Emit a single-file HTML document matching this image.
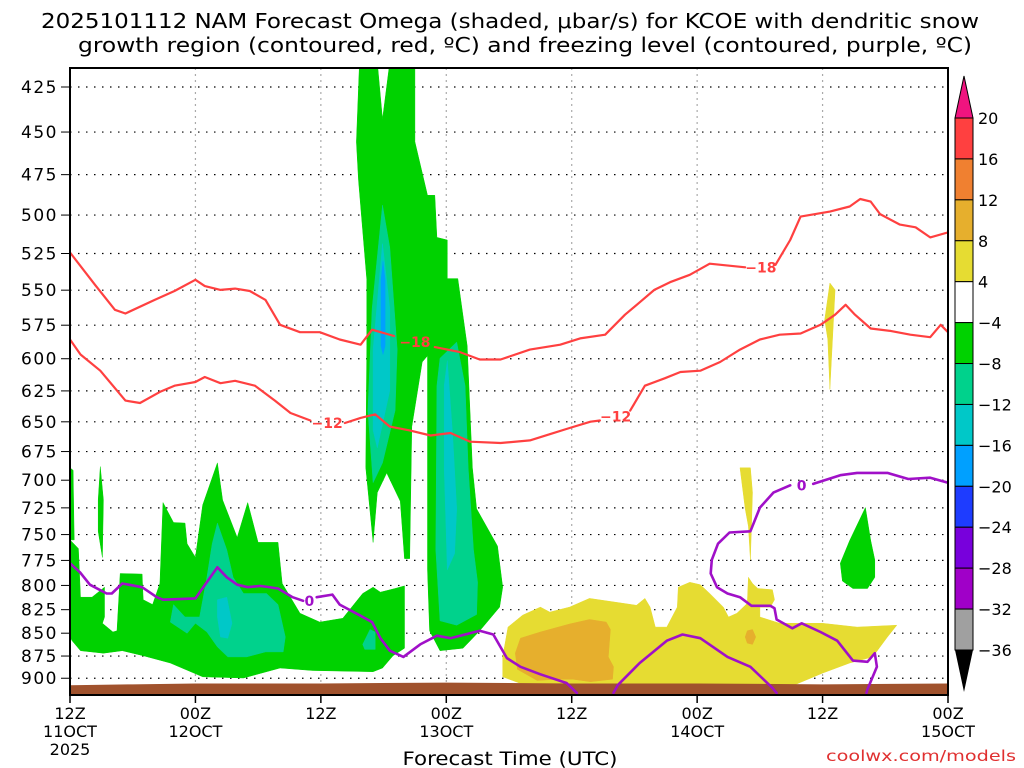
<!DOCTYPE html>
<html><head><meta charset="utf-8"><style>
html,body{margin:0;padding:0;background:#fff;}
svg{display:block;font-family:"DejaVu Sans","Liberation Sans",sans-serif;}
</style></head><body>
<svg id="chart" width="1024" height="768" viewBox="0 0 1024 768" xmlns="http://www.w3.org/2000/svg">
<text x="510" y="28" text-anchor="middle" font-size="20" textLength="938" lengthAdjust="spacingAndGlyphs">2025101112 NAM Forecast Omega (shaded, μbar/s) for KCOE with dendritic snow</text>
<text x="525" y="52" text-anchor="middle" font-size="20" textLength="894" lengthAdjust="spacingAndGlyphs">growth region (contoured, red, ºC) and freezing level (contoured, purple, ºC)</text>
<defs><clipPath id="plotclip"><rect x="70" y="68" width="878" height="627"/></clipPath></defs>
<g id="grid"></g>
<g id="shade" clip-path="url(#plotclip)"></g>
<g id="lines" clip-path="url(#plotclip)"></g>
<g id="axes"></g>
<g id="cbar"></g>
<text x="510" y="765" text-anchor="middle" font-size="19" textLength="215" lengthAdjust="spacingAndGlyphs">Forecast Time (UTC)</text>
<text x="1016" y="761" text-anchor="end" font-size="15" fill="#e03030" textLength="190" lengthAdjust="spacingAndGlyphs">coolwx.com/models</text>
</svg>
<script>
// ---- data (hours since 12Z 11 Oct, pressure hPa) ----
const pressureTicks = [425,450,475,500,525,550,575,600,625,650,675,700,725,750,775,800,825,850,875,900];
const timeTicks = [0,12,24,36,48,60,72,84];
const timeLabels1 = ["12Z","00Z","12Z","00Z","12Z","00Z","12Z","00Z"];
const timeLabels2 = ["11OCT","12OCT","","13OCT","","14OCT","","15OCT"];
const cbLevels = [20,16,12,8,4,-4,-8,-12,-16,-20,-24,-28,-32,-36];
const cbColors = ["#ff4040","#f08030","#e6af2d","#e6dc32","#ffffff","#00d200","#00d28c","#00c8c8","#00a0ff","#1e3cff","#7800dc","#a000c8","#a0a0a0"];
const surfaceHours = [0,6,12,24,36,48,60,72,84];
const surfacePres = [908,907,906,906,905,906,906,907,906];

const greenAreas = [
 [[0,689.1],[0.3,691.3],[0.4,755.1],[0,755.1]],
 [[2.7,717.8],[2.9,688.0],[3.2,717.8],[3.1,772.0],[2.7,746.9]],
 [[0,755.1],[0.8,763.5],[1.0,812.0],[2.1,812.0],[3.3,801.8],[3.3,832.7],[3.1,839.4],[4.1,848.7],[4.5,847.4],[4.8,788.0],[6.9,788.6],[7.0,814.6],[7.9,819.7],[8.6,798.0],[8.9,720.2],[9.9,738.6],[11.0,739.2],[11.2,758.7],[12.0,772.0],[12.7,722.4],[14.1,684.8],[14.6,717.8],[16.0,752.8],[17.0,720.2],[18.0,757.5],[19.9,757.5],[20.3,798.0],[22.0,828.8],[23.9,838.1],[26.1,834.1],[28.0,808.2],[29.0,801.8],[29.7,806.9],[31.1,803.1],[32.0,800.5],[32.0,866.3],[30.9,874.6],[29.9,888.4],[29.0,892.6],[23.2,891.2],[20.1,888.4],[16.6,899.7],[12.7,898.3],[9.6,882.8],[7.0,874.6],[5.0,869.1],[3.2,871.8],[1.0,869.1],[0.2,858.1],[0,854.1]],
 [[27.7,411.8],[29.4,411.8],[29.9,442.8],[30.6,411.8],[33.0,411.8],[33.0,455.6],[34.2,487.6],[34.9,487.6],[35.1,514.4],[36.1,516.1],[36.1,542.0],[37.1,542.0],[38.0,590.3],[38.5,689.1],[38.9,725.9],[40.9,761.1],[41.4,801.8],[41.1,822.3],[39.2,847.4],[37.6,866.3],[35.4,869.1],[34.4,847.4],[34.2,784.3],[34.2,597.8],[33.7,602.5],[32.7,654.0],[32.5,773.2],[32.0,773.2],[31.6,719.0],[30.3,693.5],[29.4,711.1],[29.0,757.5],[28.3,689.1],[28.4,590.3],[28.4,542.8],[27.6,478.4],[27.4,455.6]],
 [[76.1,724.8],[74.6,755.7],[73.7,777.8],[73.9,795.5],[74.9,803.1],[76.3,803.1],[77.0,791.8],[77.0,774.5],[76.6,755.7]]
];
const tealAreas = [
 [[29.9,493.8],[30.6,521.0],[31.3,593.1],[31.1,640.8],[29.9,684.8],[29.0,702.2],[28.5,640.8],[28.9,563.0]],
 [[37.0,587.5],[37.8,620.9],[38.1,689.1],[38.6,764.7],[39.0,796.8],[38.9,830.1],[37.0,841.4],[35.4,836.7],[35.0,764.7],[35.1,620.9],[35.4,599.6]],
 [[14.1,739.2],[15.0,764.7],[15.6,791.8],[16.6,808.2],[18.8,808.2],[19.9,819.7],[20.6,854.1],[20.4,870.4],[18.7,870.4],[16.9,875.9],[15.1,875.9],[14.1,864.9],[13.1,848.7],[12.0,839.4],[11.2,850.1],[9.6,838.1],[9.9,819.7],[11.0,832.7],[12.4,832.7],[13.1,791.8],[13.6,758.7]],
 [[28.0,862.2],[28.7,846.0],[29.2,848.7],[29.2,867.7],[28.2,867.7]]
];
const cyanAreas = [
 [[29.9,518.5],[30.6,563.0],[30.6,624.8],[29.4,671.9],[29.0,657.1],[29.0,593.1]],
 [[36.1,601.5],[36.6,660.3],[37.0,725.9],[36.8,768.3],[36.1,784.3],[35.8,689.1],[35.8,620.9]],
 [[14.1,814.6],[15.0,812.0],[15.5,839.4],[15.1,855.4],[14.4,854.1],[14.1,832.7]]
];
const blueAreas = [
 [[29.95,530.2],[30.15,542.8],[30.15,590.3],[29.95,596.8],[29.75,590.3],[29.75,542.8]]
];
const yellowAreas = [
 [[41.4,875.9],[41.9,843.4],[43.3,830.8],[45.0,822.3],[45.9,827.5],[47.8,822.3],[49.7,813.3],[52.9,818.4],[54.2,820.4],[55.0,813.3],[55.5,822.3],[56.0,843.4],[57.1,843.4],[58.1,822.3],[58.2,801.8],[59.3,796.8],[60.3,799.3],[61.2,808.2],[62.5,822.3],[63.0,832.7],[63.8,828.8],[64.8,818.4],[64.9,791.8],[65.3,798.0],[65.8,803.1],[67.2,804.3],[67.4,814.6],[67.0,822.3],[66.0,822.3],[66.0,832.7],[67.9,839.4],[72.0,839.4],[75.3,843.4],[79.1,841.4],[78.2,854.1],[76.8,875.9],[74.6,882.8],[72.0,894.1],[68.9,909.7],[65.7,914.0],[59.3,914.0],[52.9,909.7],[48.1,908.3],[43.3,906.8],[41.4,898.3]],
 [[64.1,689.1],[65.1,689.1],[65.3,711.1],[65.1,774.5],[64.9,742.1],[64.6,725.9]],
 [[72.7,545.0],[73.2,549.8],[73.0,578.3],[72.7,623.8],[72.5,585.5],[72.2,571.0]]
];
const goldAreas = [
 [[43.1,855.4],[45.0,848.7],[47.8,840.1],[49.7,835.4],[51.3,838.1],[51.7,846.0],[51.5,875.9],[52.0,887.0],[51.9,901.1],[49.8,904.0],[48.1,901.1],[46.6,901.1],[44.7,902.6],[42.8,889.8],[42.6,871.8]],
 [[64.8,847.4],[65.3,846.0],[65.6,854.1],[65.3,862.2],[64.8,860.8],[64.6,854.1]]
];

const redUpper = [[0,524.3],[2.4,546.3],[4.3,563.9],[5.3,566.5],[8.1,556.8],[10.0,550.6],[12.0,542.8],[12.9,547.2],[14.4,549.8],[15.8,548.9],[17.2,550.6],[18.7,556.8],[20.1,574.7],[22.0,580.1],[23.9,580.1],[25.8,585.5],[27.8,589.4],[28.9,578.3],[31.0,582.9],null,[34.9,591.2],[37.3,595.0],[39.2,600.6],[41.2,600.6],[44.0,593.1],[46.9,589.4],[48.8,584.7],[51.2,582.0],[53.1,567.4],[54.5,558.5],[55.9,549.8],[57.4,544.5],[59.3,539.4],[61.2,531.8],[64.6,534.3],null,[67.5,532.6],[68.9,516.1],[69.9,501.0],[72.7,497.8],[74.6,494.6],[75.6,489.9],[76.6,491.5],[77.5,499.4],[79.4,506.1],[80.9,507.8],[82.3,514.4],[84,511.1]];
const redLower = [[0,585.5],[1.0,596.8],[2.9,609.2],[5.3,632.7],[6.7,634.7],[8.6,625.8],[10.0,620.9],[12.0,618.0],[12.9,614.1],[14.4,618.9],[15.8,617.0],[17.7,620.9],[19.6,632.7],[21.1,642.8],[23.0,648.9],null,[26.3,651.0],[27.8,646.8],[29.2,643.8],[30.6,654.0],[32.5,657.1],[34.5,661.4],[36.4,659.3],[38.3,666.6],[41.2,667.7],[44.0,665.5],[45.9,660.3],[47.8,655.1],[49.8,649.9],[50.7,648.9],null,[53.6,640.8],[55.0,620.9],[56.9,615.1],[58.4,610.2],[60.3,609.2],[62.2,602.5],[64.1,593.1],[66.0,585.5],[67.9,582.0],[69.9,581.1],[71.8,574.7],[73.2,567.4],[74.2,560.3],[75.1,567.4],[76.6,577.4],[78.5,579.2],[80.4,582.0],[82.3,583.8],[83.3,574.7],[84,580.1]];
const purpleLeft = [[0,777.8],[0.96,786.8],[1.9,799.3],[3.5,808.2],[4.0,808.2],[5.0,798.0],[6.9,801.8],[8.3,812.0],[8.9,814.6],[12.0,813.3],[14.1,781.8],[15.0,791.8],[16.0,799.3],[17.0,801.8],[18.2,800.5],[19.9,803.1],[21.3,812.0],[22.3,815.8],null,[23.6,812.0],[25.1,809.4],[25.8,819.7],[27.7,830.8],[28.9,838.1],[29.7,855.4],[30.6,869.1],[31.9,875.9],[33.5,862.2],[35.1,852.7],[36.4,855.4],[39.2,847.4],[40.5,851.4],[41.8,877.3],[43.1,887.0],[45.0,895.5],[47.5,905.4],[48.5,916.9]];
const purpleMid = [[52.0,916.9],[52.4,908.0],[54.5,882.8],[57.1,858.1],[58.6,851.4],[60.3,855.4],[62.9,875.9],[65.1,887.0],[67.2,911.1],[67.6,916.9]];
const purpleRight = [[76.2,916.9],[76.3,912.6],[77.2,887.0],[77.0,871.8],[76.3,881.4],[74.9,880.1],[73.4,858.1],[71.8,848.7],[70.0,839.4],[69.1,844.7],[67.6,835.4],[67.4,823.6],[67.0,821.0],[65.2,821.0],[64.1,812.0],[62.9,808.2],[61.9,801.8],[61.3,788.0],[61.4,774.5],[62.0,758.7],[63.1,748.0],[65.1,746.9],[66.0,724.8],[67.3,711.1],[68.9,704.5],null,[71.1,703.3],[73.7,695.6],[75.3,693.5],[78.2,693.5],[80.2,698.9],[82.3,697.8],[84,702.2]];

const contourLabels = [["−18",33.0,587.4,"#ff4040"],["−12",24.6,651.0,"#ff4040"],["−12",52.2,645.8,"#ff4040"],["−18",66.1,534.3,"#ff4040"],["0",22.9,815.8,"#a010c8"],["0",70.0,704.5,"#a010c8"]];

// ---- axis functions (log-pressure y axis) ----
const X0=70, X1=948;
function xs(h){return X0 + h*(X1-X0)/84;}
function ys(p){return 87 + 788*Math.log(p/425);}
const NS="http://www.w3.org/2000/svg";
function mk(tag, attrs, parent){const e=document.createElementNS(NS,tag);for(const k in attrs)e.setAttribute(k,attrs[k]);parent.appendChild(e);return e;}
const grid=document.getElementById('grid'), shade=document.getElementById('shade'), lines=document.getElementById('lines'), axes=document.getElementById('axes'), cbar=document.getElementById('cbar');

pressureTicks.forEach(p=>{
  const l=mk('line',{x1:X0,x2:X1,y1:ys(p),y2:ys(p),stroke:'#000','stroke-width':1.2,'stroke-dasharray':'1.5 6.5'},grid);
  
  
  const t=mk('text',{x:58,y:ys(p)+6,'text-anchor':'end','font-size':17,'letter-spacing':'1.5'},axes);
  t.textContent=p;
  
  
  const tk=mk('line',{x1:61,x2:X0,y1:ys(p),y2:ys(p),stroke:'#000','stroke-width':1},axes);
  
  
});
timeTicks.forEach((h,i)=>{
  if(i>0&&i<timeTicks.length-1){
    const l=mk('line',{x1:xs(h),x2:xs(h),y1:68,y2:695,stroke:'#aaa','stroke-width':1.2,'stroke-dasharray':'2 4'},grid);
    
    
  }
  const tk=mk('line',{x1:xs(h),x2:xs(h),y1:695,y2:703,stroke:'#000','stroke-width':1.5},axes);
  
  
  const t1=mk('text',{x:xs(h),y:719,'text-anchor':'middle','font-size':16},axes);
  t1.textContent=timeLabels1[i];
  
  
  if(timeLabels2[i]){
    const t2=mk('text',{x:xs(h),y:737,'text-anchor':'middle','font-size':16},axes);
    t2.textContent=timeLabels2[i];
    
    
  }
});
const yr=mk('text',{x:xs(0),y:755,'text-anchor':'middle','font-size':16},axes);
yr.textContent='2025';



function poly(arr,color,name){
  const pts=arr.map(d=>xs(d[0]).toFixed(1)+','+ys(d[1]).toFixed(1)).join(' ');
  const e=mk('polygon',{points:pts,fill:color,stroke:color,'stroke-width':0.5,'stroke-linejoin':'round'},shade);
  
  
}
greenAreas.forEach(a=>poly(a,'#00d200','omega-area-minus4'));
tealAreas.forEach(a=>poly(a,'#00d28c','omega-area-minus8'));
cyanAreas.forEach(a=>poly(a,'#00c8c8','omega-area-minus12'));
blueAreas.forEach(a=>poly(a,'#00a0ff','omega-area-minus16'));
yellowAreas.forEach(a=>poly(a,'#e6dc32','omega-area-plus4'));
goldAreas.forEach(a=>poly(a,'#e6af2d','omega-area-plus8'));
{
  let pts=surfaceHours.map((h,i)=>xs(h)+','+ys(surfacePres[i])).join(' ');
  pts+=' '+xs(84)+',695 '+xs(0)+',695';
  const g=mk('polygon',{points:pts,fill:'#a0522d'},shade);
  
  
}
function cline(arr,color,w,name){
  let d='',pen=false;
  arr.forEach(pt=>{ if(!pt){pen=false;return;} d+=(pen?'L':'M')+xs(pt[0]).toFixed(1)+','+ys(pt[1]).toFixed(1); pen=true; });
  const e=mk('path',{d:d,fill:'none',stroke:color,'stroke-width':w,'stroke-linejoin':'round','stroke-linecap':'round'},lines);
  
  
}
cline(redUpper,'#ff4040',2.2,'contour-minus18');
cline(redLower,'#ff4040',2.2,'contour-minus12');
cline(purpleLeft,'#a010c8',2.6,'freezing-level-left');
cline(purpleMid,'#a010c8',2.6,'freezing-level-mid');
cline(purpleRight,'#a010c8',2.6,'freezing-level-right');
contourLabels.forEach(c=>{
  const t=mk('text',{x:xs(c[1]),y:ys(c[2])+5,'text-anchor':'middle','font-size':14,'font-weight':'bold',fill:c[3]},lines);
  t.textContent=c[0];
  
  
});
{
  const f=mk('rect',{x:X0,y:68,width:X1-X0,height:627,fill:'none',stroke:'#000','stroke-width':2},axes);
  
  
}
const CB_X=955, CB_W=18, CB_TOP=118, CB_STEP=(650-118)/13;
function cbY(i){return CB_TOP+i*CB_STEP;}
{
  const tri=mk('polygon',{points:`${CB_X},${CB_TOP} ${CB_X+CB_W},${CB_TOP} ${CB_X+CB_W/2},76`,fill:'#f0147f',stroke:'#000','stroke-width':1},cbar);
  
  
  const tri2=mk('polygon',{points:`${CB_X},650 ${CB_X+CB_W},650 ${CB_X+CB_W/2},692`,fill:'#000'},cbar);
  
  
}
cbColors.forEach((c,i)=>{
  const r=mk('rect',{x:CB_X,y:cbY(i),width:CB_W,height:CB_STEP,fill:c,stroke:'#000','stroke-width':1},cbar);
  
  
});
cbLevels.forEach((v,i)=>{
  const t=mk('text',{x:978,y:cbY(i)+6,'font-size':16},cbar);
  t.textContent=(v<0?'−'+(-v):String(v));
  
  
});
</script>
</body></html>
